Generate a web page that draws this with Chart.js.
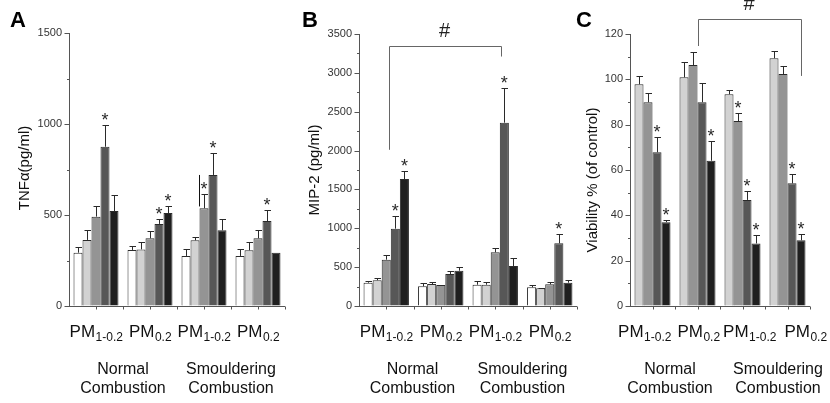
<!DOCTYPE html>
<html><head><meta charset="utf-8">
<script src="https://cdn.jsdelivr.net/npm/chart.js@4.4.0/dist/chart.umd.min.js"></script>
<style>
html,body{margin:0;padding:0;background:#fff;}
#wrap{position:relative;width:830px;height:403px;overflow:hidden;background:#fff}
canvas{position:absolute;left:0;top:0}
</style></head><body>
<div id="wrap">
<canvas id="cA" width="830" height="403"></canvas>
<canvas id="cB" width="830" height="403"></canvas>
<canvas id="cC" width="830" height="403"></canvas>
</div>
<script>
// ---------- data ----------
const categories = ['PM1-0.2', 'PM0.2', 'PM1-0.2', 'PM0.2'];
const pmSubscripts = ['1-0.2', '0.2', '1-0.2', '0.2'];
const combustionLines = [['Normal', 'Combustion'], ['Smouldering', 'Combustion']];

// Panel A: TNFα (pg/ml)
const tnfWhite = [293, 308, 275, 275];   const tnfWhiteErr = [33, 22, 36, 36];
const tnfLight = [363, 311, 361, 306];   const tnfLightErr = [53, 42, 16, 44];
const tnfGray  = [491, 372, 537, 372];   const tnfGrayErr  = [60, 42, 77, 44];
const tnfDark  = [875, 451, 720, 467];   const tnfDarkErr  = [121, 25, 119, 60];
const tnfBlack = [522, 511, 416, 292];   const tnfBlackErr = [90, 37, 62, 0];
const tnfStars = [[0,0,0,0],[0,0,0,0],[0,0,1,0],[1,1,1,1],[0,1,0,0]];
const tnfTicks = {max: 1500, step: 250, major: 500};

// Panel B: MIP-2 (pg/ml)
const mipWhite = [300, 253, 274, 241];   const mipWhiteErr = [18, 39, 48, 25];
const mipLight = [331, 283, 274, 228];   const mipLightErr = [29, 22, 31, 8];
const mipGray  = [596, 270, 691, 279];   const mipGrayErr  = [56, 0, 59, 26];
const mipDark  = [995, 412, 2359, 807];  const mipDarkErr  = [167, 38, 443, 120];
const mipBlack = [1634, 454, 515, 300];  const mipBlackErr = [103, 48, 107, 35];
const mipStars = [[0,0,0,0],[0,0,0,0],[0,0,0,0],[1,0,1,1],[1,0,0,0]];
const mipTicks = {max: 3500, step: 250, major: 500};

// Panel C: Viability % (of control)
const viaLight = [97.8, 100.9, 93.4, 109.3]; const viaLightErr = [3.5, 6.9, 1.9, 3.0];
const viaGray  = [89.9, 106.3, 81.6, 102.3]; const viaGrayErr  = [3.9, 5.7, 3.5, 3.6];
const viaDark  = [67.8, 89.9, 46.8, 54.1];   const viaDarkErr  = [6.9, 8.3, 3.9, 4.0];
const viaBlack = [37.0, 64.1, 27.6, 29.0];   const viaBlackErr = [0.8, 8.5, 3.7, 2.8];
const viaStars = [[0,0,0,0],[0,0,1,0],[1,0,1,1],[1,1,1,1]];
const viaTicks = {max: 120, step: 10, major: 20};

// ---------- style ----------
const FONT = "'Liberation Sans', Arial, Helvetica, sans-serif";
const C_WHITE = '#ffffff', C_LIGHT = '#d2d2d2', C_GRAY = '#949494', C_DARK = '#575757', C_BLACK = '#1f1f1f';
const OUTLINE = '#2b2b2b', AXIS = '#555555', INK = '#2a2a2a';

function makeDeco(p) {
  return {
    id: 'deco' + p.letter,
    afterDraw(chart) {
      const ctx = chart.ctx, a = chart.chartArea, xs = chart.scales.x, ys = chart.scales.y;
      const catW = (a.right - a.left) / categories.length;
      ctx.save();
      // x axis line + ticks
      ctx.strokeStyle = AXIS; ctx.lineWidth = 1;
      const yb = Math.round(a.bottom) + 0.5;
      ctx.beginPath(); ctx.moveTo(a.left, yb); ctx.lineTo(a.right, yb); ctx.stroke();
      for (let k = 1; k <= categories.length * 2; k++) {
        const x = Math.round(a.left + k * catW / 2) + 0.5;
        ctx.beginPath(); ctx.moveTo(x, yb); ctx.lineTo(x, yb + 3); ctx.stroke();
      }
      // y ticks (major/minor)
      const yAxisX = Math.round(a.left) + 0.5;
      ys.ticks.forEach(t => {
        const y = Math.round(ys.getPixelForValue(t.value)) + 0.5;
        const len = (t.value % p.ticks.major === 0) ? 5 : 2.5;
        ctx.beginPath(); ctx.moveTo(yAxisX - len, y); ctx.lineTo(yAxisX, y); ctx.stroke();
      });
      // error bars + stars
      chart.data.datasets.forEach((ds, d) => {
        const meta = chart.getDatasetMeta(d);
        meta.data.forEach((bar, j) => {
          const err = p.errs[d][j];
          const top = ys.getPixelForValue(ds.data[j] + err);
          const x = Math.round(bar.x) + 0.5;
          ctx.strokeStyle = INK; ctx.lineWidth = 1;
          if (err > 0) {
            const yt = Math.round(top) + 0.5;
            ctx.beginPath(); ctx.moveTo(x, bar.y); ctx.lineTo(x, yt);
            ctx.moveTo(x - 3, yt); ctx.lineTo(x + 3.5, yt); ctx.stroke();
          }
          if (p.stars[d][j]) {
            ctx.fillStyle = INK; ctx.font = '18px ' + FONT;
            ctx.textAlign = 'center'; ctx.textBaseline = 'alphabetic';
            ctx.fillText('*', bar.x, top + 1);
          }
        });
      });
      // artifact line (panel A)
      if (p.artifact) {
        const bar = chart.getDatasetMeta(p.artifact.series).data[p.artifact.category];
        const x = Math.round(bar.x - bar.width / 2) - 0.5;
        ctx.strokeStyle = '#111';
        ctx.beginPath(); ctx.moveTo(x, ys.getPixelForValue(p.artifact.to));
        ctx.lineTo(x, ys.getPixelForValue(p.artifact.from)); ctx.stroke();
      }
      // x labels with subscripts
      ctx.fillStyle = '#111'; ctx.textBaseline = 'alphabetic'; ctx.textAlign = 'left';
      categories.forEach((c, j) => {
        const cx = xs.getPixelForValue(j) + p.labelOffsets[j];
        ctx.font = '17px ' + FONT; const w1 = ctx.measureText('PM').width;
        ctx.font = '12px ' + FONT; const w2 = ctx.measureText(pmSubscripts[j]).width;
        const sx = cx - (w1 + w2) / 2;
        ctx.font = '17px ' + FONT; ctx.fillText('PM', sx, 337);
        ctx.font = '12px ' + FONT; ctx.fillText(pmSubscripts[j], sx + w1 + 0.5, 341);
      });
      // combustion group labels
      ctx.textAlign = 'center'; ctx.font = '16px ' + FONT;
      combustionLines.forEach((lines, g) => {
        const cx = a.left + (2 * g + 1) * catW + p.groupOffsets[g];
        ctx.fillText(lines[0], cx, 374);
        ctx.fillText(lines[1], cx, 393);
      });
      // y title
      ctx.save();
      ctx.translate(p.titleX, p.titleY); ctx.rotate(-Math.PI / 2);
      ctx.font = '15px ' + FONT; ctx.textAlign = 'center'; ctx.textBaseline = 'middle';
      ctx.fillText(p.title, 0, 0);
      ctx.restore();
      // panel letter
      ctx.font = 'bold 22px ' + FONT; ctx.textAlign = 'left'; ctx.textBaseline = 'alphabetic';
      ctx.fillStyle = '#000';
      ctx.fillText(p.letter, p.letterX, 27);
      // bracket + '#'
      if (p.bracket) {
        const b = p.bracket;
        const xl = Math.round(xs.getPixelForValue(b.left[0]) + b.left[1] * catW) + 0.5;
        const xr = Math.round(xs.getPixelForValue(b.right[0]) + b.right[1] * catW) + 0.5;
        const yt = Math.round(ys.getPixelForValue(b.top)) + 0.5;
        ctx.strokeStyle = '#666'; ctx.lineWidth = 1;
        ctx.beginPath();
        ctx.moveTo(xl, ys.getPixelForValue(b.leftBottom)); ctx.lineTo(xl, yt);
        ctx.lineTo(xr, yt); ctx.lineTo(xr, ys.getPixelForValue(b.rightBottom));
        ctx.stroke();
        ctx.fillStyle = '#222'; ctx.font = '20px ' + FONT; ctx.textAlign = 'center';
        ctx.fillText('#', (xl + xr) / 2 - 1, yt - 9.5);
      }
      ctx.restore();
    }
  };
}

function makeChart(id, p) {
  const datasets = p.series.map((s, i) => ({
    data: s, backgroundColor: p.colors[i], borderColor: OUTLINE, borderWidth: 1,
    borderSkipped: 'bottom', categoryPercentage: p.catPct, barPercentage: 1.0
  }));
  new Chart(document.getElementById(id), {
    type: 'bar',
    data: { labels: categories, datasets },
    options: {
      responsive: false, animation: false, devicePixelRatio: 1, events: [],
      layout: { padding: p.padding },
      plugins: { legend: { display: false }, tooltip: { enabled: false } },
      scales: {
        x: { display: false, offset: true },
        y: {
          min: 0, max: p.ticks.max, position: 'left',
          ticks: { stepSize: p.ticks.step, autoSkip: false, padding: 7, color: '#333',
                   font: { family: FONT, size: 11 },
                   callback: v => (v % p.ticks.major === 0 ? String(v) : '') },
          grid: { display: true, drawOnChartArea: false, drawTicks: false },
          border: { display: true, color: AXIS, width: 1 },
          afterFit: s => { s.width = p.yWidth; }
        }
      }
    },
    plugins: [makeDeco(p)]
  });
}

makeChart('cA', {
  letter: 'A', letterX: 10, title: 'TNFα(pg/ml)', titleX: 25, titleY: 168,
  series: [tnfWhite, tnfLight, tnfGray, tnfDark, tnfBlack],
  errs: [tnfWhiteErr, tnfLightErr, tnfGrayErr, tnfDarkErr, tnfBlackErr],
  stars: tnfStars, ticks: tnfTicks,
  colors: [C_WHITE, C_LIGHT, C_GRAY, C_DARK, C_BLACK], catPct: 0.833,
  padding: { left: 0, right: 545, top: 33, bottom: 97 }, yWidth: 69,
  labelOffsets: [0, 0, 0, 0], groupOffsets: [0, 0],
  artifact: { series: 2, category: 2, from: 547, to: 720 }
});

makeChart('cB', {
  letter: 'B', letterX: 302, title: 'MIP-2 (pg/ml)', titleX: 315, titleY: 170,
  series: [mipWhite, mipLight, mipGray, mipDark, mipBlack],
  errs: [mipWhiteErr, mipLightErr, mipGrayErr, mipDarkErr, mipBlackErr],
  stars: mipStars, ticks: mipTicks,
  colors: [C_WHITE, C_LIGHT, C_GRAY, C_DARK, C_BLACK], catPct: 0.833,
  padding: { left: 290, right: 253, top: 34, bottom: 97 }, yWidth: 69,
  labelOffsets: [0, 0, 0, 0], groupOffsets: [-1, 0],
  bracket: { left: [0, 0.05], right: [2, 0.11], top: 3340, leftBottom: 2010, rightBottom: 3210 }
});

makeChart('cC', {
  letter: 'C', letterX: 576, title: 'Viability % (of control)', titleX: 593, titleY: 180,
  series: [viaLight, viaGray, viaDark, viaBlack],
  errs: [viaLightErr, viaGrayErr, viaDarkErr, viaBlackErr],
  stars: viaStars, ticks: viaTicks,
  colors: [C_LIGHT, C_GRAY, C_DARK, C_BLACK], catPct: 0.8,
  padding: { left: 580, right: 20, top: 34, bottom: 97 }, yWidth: 50,
  labelOffsets: [-8, 1, 7, 18], groupOffsets: [-5, 13],
  bracket: { left: [1, 0.0], right: [3, 0.29], top: 126.6, leftBottom: 114.7, rightBottom: 101.5 }
});
</script>
</body></html>
